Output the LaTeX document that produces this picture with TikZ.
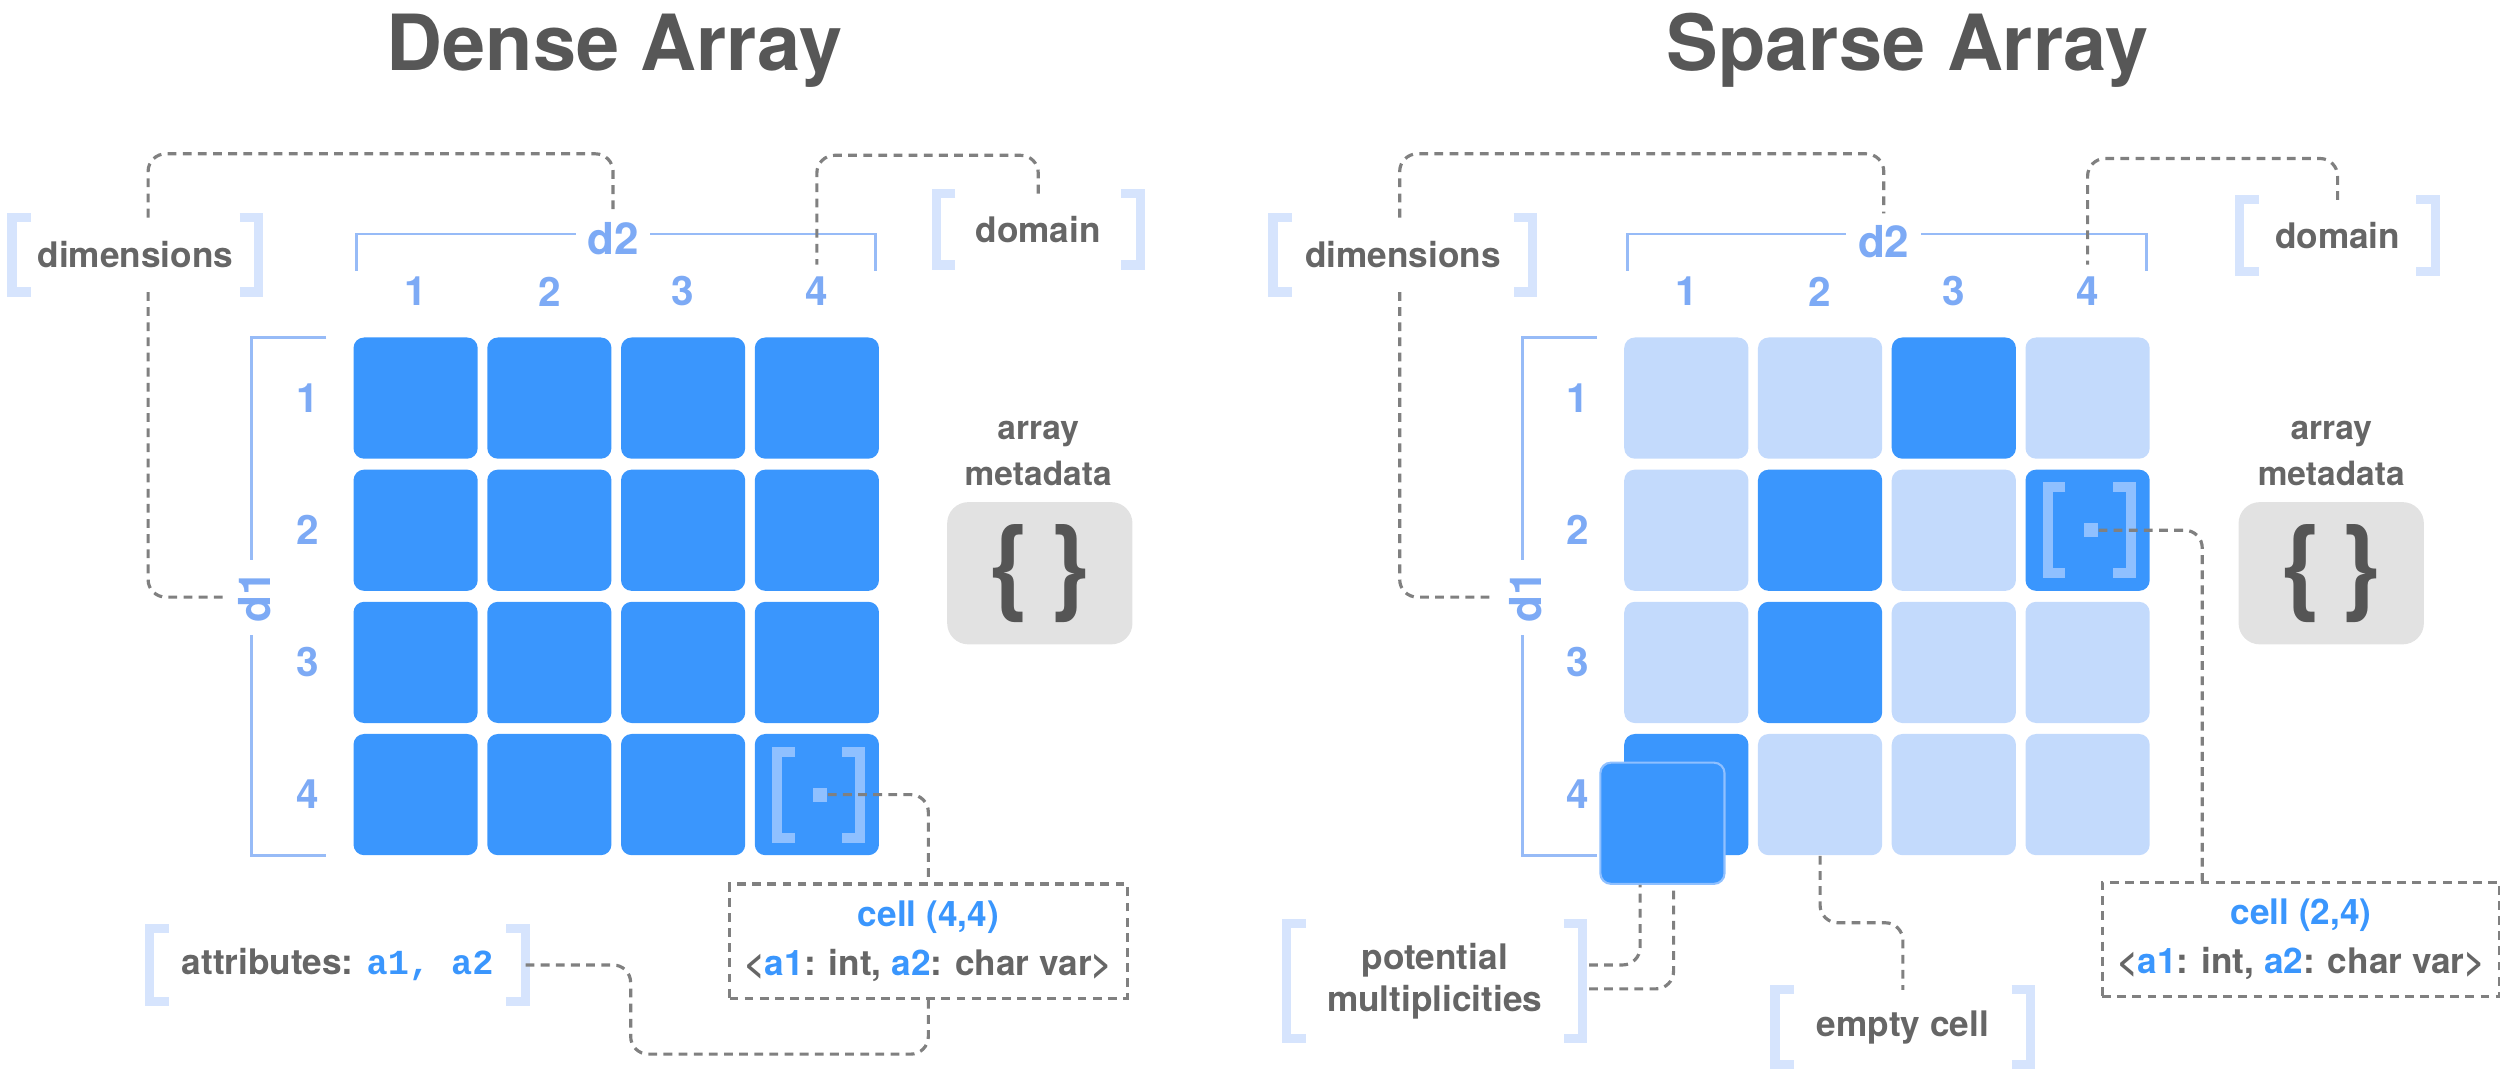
\documentclass[tikz,border=0pt]{standalone}
\usepackage{fontspec}
\setmainfont{TeX Gyre Heros}
\newfontfamily\codefont{Liberation Mono}
\usetikzlibrary{positioning, calc}
\definecolor{cellblue}{HTML}{3A96FD}
\definecolor{lightcell}{HTML}{C3DAFC}
\definecolor{axisblue}{HTML}{7DAAF5}
\definecolor{brkblue}{HTML}{D6E4FD}
\definecolor{iconblue}{HTML}{8FC0FF}
\definecolor{txtgray}{HTML}{666666}
\definecolor{metagray}{HTML}{E2E2E2}
\definecolor{bracegray}{HTML}{555555}
\definecolor{dashgray}{HTML}{808080}
\begin{document}
\begin{tikzpicture}[x=0.0159cm, y=-0.0159cm,
    font=\bfseries,
% cells of the arrays
    cell/.style={fill=#1, rounded corners=3pt, minimum width=1.24cm, minimum height=1.21cm, inner sep=0pt},
    cell/.default=cellblue,
    num/.style={text=axisblue, font=\fontsize{11.5}{13}\selectfont\bfseries},
    axis/.style={draw=axisblue!80, line width=0.8pt},
    title/.style={text=txtgray!85!black, anchor=base, font=\fontsize{22}{26}\selectfont\bfseries},
    tag/.style={text=txtgray, font=\fontsize{10}{12}\selectfont\bfseries, inner sep=0pt, align=center},
    brk/.style={draw=brkblue, line width=2.6pt},
    link/.style={draw=dashgray, line width=0.9pt, dash pattern=on 2.5pt off 1.8pt, rounded corners=5pt},
    icon/.style={draw=iconblue, line width=2.8pt},
    meta/.style={fill=metagray, rounded corners=6pt, minimum width=1.85cm, minimum height=1.42cm,
        text=bracegray, font=\fontsize{30}{32}\selectfont\bfseries},
    cellbox/.style={draw=dashgray, line width=0.9pt, dash pattern=on 2.5pt off 1.8pt,
        minimum width=3.97cm, minimum height=1.14cm, align=center, text=txtgray,
        font=\fontsize{10}{14}\selectfont\bfseries}
]
\useasboundingbox (0,0) rectangle (1570,672);

% titles
\node[title] (tD) at (386,44) {Dense Array};
\node[title] (tS) at (1198,44) {Sparse Array};

% dense cells
\foreach \r in {1,...,4}
  \foreach \c in {1,...,4}
    \node[cell] (D\r\c) at ({261+(\c-1)*84},{250+(\r-1)*83}) {};

% sparse cells
\foreach \r/\c/\col in {1/1/lightcell,1/2/lightcell,1/3/cellblue,1/4/lightcell,
                        2/1/lightcell,2/2/cellblue,2/3/lightcell,2/4/cellblue,
                        3/1/lightcell,3/2/cellblue,3/3/lightcell,3/4/lightcell,
                        4/1/cellblue,4/2/lightcell,4/3/lightcell,4/4/lightcell}
    \node[cell=\col] (S\r\c) at ({1059+(\c-1)*84},{250+(\r-1)*83}) {};

% axes
\draw[axis] (224,170) |- (550,147) -- (550,170);
\draw[axis] (205,212) -| (158,537) -- (205,537);
\draw[axis] (1022,170) |- (1348,147) -- (1348,170);
\draw[axis] (1003,212) -| (956,537) -- (1003,537);
\node[num, fill=white, font=\fontsize{12.5}{14}\selectfont\bfseries] (d2a) at (385,150) {d2};
\node[num, fill=white, font=\fontsize{12.5}{14}\selectfont\bfseries, rotate=90] (d1a) at (160,375) {d1};
\node[num, fill=white, font=\fontsize{12.5}{14}\selectfont\bfseries] (d2b) at (1183,152) {d2};
\node[num, fill=white, font=\fontsize{12.5}{14}\selectfont\bfseries, rotate=90] (d1b) at (958,375) {d1};
\foreach \i in {1,...,4} {
    \node[num] (colD\i) at ({261+(\i-1)*84},183) {\i};
    \node[num] (rowD\i) at (193,{250+(\i-1)*83}) {\i};
    \node[num] (colS\i) at ({1059+(\i-1)*84},183) {\i};
    \node[num] (rowS\i) at (991,{250+(\i-1)*83}) {\i};
}

% cell icons
\foreach \n in {D44,S24} {
    \draw[icon] ([shift={(-14,-27)}]\n.center) -- ([shift={(-25,-27)}]\n.center)
        -- ([shift={(-25,27)}]\n.center) -- ([shift={(-14,27)}]\n.center);
    \draw[icon] ([shift={(16,-27)}]\n.center) -- ([shift={(27,-27)}]\n.center)
        -- ([shift={(27,27)}]\n.center) -- ([shift={(16,27)}]\n.center);
    \node[fill=iconblue, minimum size=4pt, inner sep=0pt] (\n dot) at ([shift={(2,0)}]\n.center) {};
}

% multiplicity card
\node[cell, draw=iconblue, line width=0.6pt] (card) at (1044,517) {};

% metadata
\node[tag, font=\fontsize{9.5}{13}\selectfont\bfseries] (mtD) at (652,285) {array\\metadata};
\node[meta] (mD) at (653,360) {\{\,\}};
\node[tag, font=\fontsize{9.5}{13}\selectfont\bfseries] (mtS) at (1464,285) {array\\metadata};
\node[meta] (mS) at (1464,360) {\{\,\}};

% bracketed labels
\node[tag, minimum width=2.45cm, minimum height=0.73cm] (dimD) at (85,160) {dimensions};
\node[tag, minimum width=2.02cm, minimum height=0.70cm] (domD) at (652,144) {domain};
\node[tag, minimum width=3.74cm, minimum height=0.72cm] (attD) at (212,606)
    {attributes: {\color{cellblue}\codefont\bfseries a1, a2}};
\node[tag, minimum width=2.58cm, minimum height=0.73cm] (dimS) at (881,160) {dimensions};
\node[tag, minimum width=1.94cm, minimum height=0.70cm] (domS) at (1468,148) {domain};
\node[tag, minimum width=2.94cm, minimum height=1.14cm] (potS) at (901,616) {potential\\multiplicities};
\node[tag, minimum width=2.54cm, minimum height=0.73cm] (empS) at (1195,645) {empty cell};
\foreach \n in {dimD,domD,attD,dimS,domS,potS,empS} {
    \draw[brk] ([shift={(12,0)}]\n.north west) -- (\n.north west) -- (\n.south west) -- ([shift={(12,0)}]\n.south west);
    \draw[brk] ([shift={(-12,0)}]\n.north east) -- (\n.north east) -- (\n.south east) -- ([shift={(-12,0)}]\n.south east);
}

% cell boxes
\node[cellbox] (cbD) at (583,591) {{\color{cellblue}cell (4,4)}\\
    <{\color{cellblue}a1}: int, {\color{cellblue}a2}: char var>};
\node[cellbox] (cbS) at (1445,590) {{\color{cellblue}cell (2,4)}\\
    <{\color{cellblue}a1}: int, {\color{cellblue}a2}: char var>};

% connectors
\draw[link] ([shift={(8,0)}]dimD.north) -- ++(0,-40) -| (d2a.north);
\draw[link] ([shift={(8,0)}]dimD.south) |- ([shift={(-20,0)}]d1a.center);
\draw[link] (domD.north) -- ++(0,-24) -| (colD4.north);
\draw[link] (D44dot) -| (cbD.north);
\draw[link] (attD.east) -- ++(66,0) -- ++(0,56) -| (cbD.south);
\draw[link] ([shift={(-2,0)}]dimS.north) -- ++(0,-40) -| (d2b.north);
\draw[link] ([shift={(-2,0)}]dimS.south) |- ([shift={(-22,0)}]d1b.center);
\draw[link] (domS.north) -- ++(0,-26) -| (colS4.north);
\draw[link] (S24dot) -| ([shift={(-62,0)}]cbS.north);
\draw[link] ([shift={(4,-10)}]potS.east) -| ([shift={(-14,0)}]card.south);
\draw[link] ([shift={(4,5)}]potS.east) -| ([shift={(7,0)}]card.south);
\draw[link] (S42.south) -- ++(0,42) -| (empS.north);
\end{tikzpicture}
\end{document}
